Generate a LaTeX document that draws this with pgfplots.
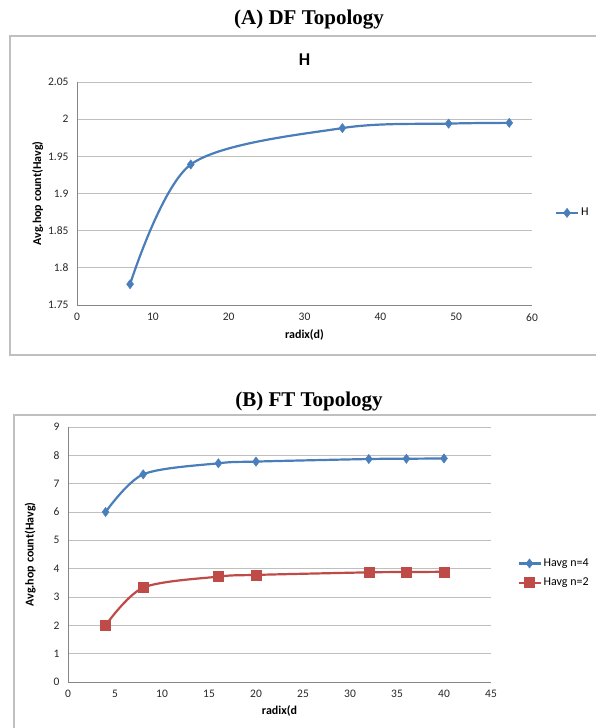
\documentclass[border=0pt]{standalone}
\usepackage{fontspec}
\setmainfont{Carlito}
\newfontfamily\serifb{Liberation Serif}
\usepackage{pgfplots}
\pgfplotsset{compat=1.18}
\usepackage{pgfplotstable}
\definecolor{xlblue}{HTML}{4A7EBB}
\definecolor{xlred}{HTML}{BE4B48}
\definecolor{gridc}{HTML}{BFBFBF}
\definecolor{axc}{HTML}{868686}
\definecolor{framec}{HTML}{BFBFBF}

\pgfplotstableread{
x y
7 1.778
15 1.939
35 1.988
49 1.994
57 1.995
}\dfH

\pgfplotstableread{
x y
4 6.0
8 7.33
16 7.72
20 7.78
32 7.87
36 7.88
40 7.89
}\ftFour

\pgfplotstableread{
x y
4 2.0
8 3.33
16 3.72
20 3.78
32 3.87
36 3.88
40 3.89
}\ftTwo

\pgfplotsset{
  xlstyle/.style={
    scale only axis,
    axis lines*=left,
    axis line style={axc, line width=0.8pt},
    ymajorgrids,
    grid style={gridc, line width=0.9pt},
    major tick length=0pt,
    tick label style={font=\fontsize{11.5}{13}\selectfont, text=black!85},
    xticklabel style={yshift=-5pt},
    yticklabel style={xshift=-5pt},
    /pgf/number format/assume math mode=true,
    label style={font=\bfseries\fontsize{12}{14}\selectfont},
    legend style={draw=none, fill=none, font=\fontsize{12}{14}\selectfont, row sep=6pt,
      legend cell align=left, inner sep=0pt},
    legend image code/.code={%
      \draw[mark repeat=2,mark phase=2] plot coordinates {(0pt,0pt) (11pt,0pt) (22pt,0pt)};},
    clip=false,
  }
}

\begin{document}
\begin{tikzpicture}
\useasboundingbox (0pt,0pt) rectangle (595pt,728pt);
% frames
\draw[framec, line width=1.3pt] (10pt,692pt) rectangle (605pt,373pt);
\draw[framec, line width=1.3pt] (14pt,313pt) rectangle (605pt,-10pt);
% titles
\node[font=\serifb\bfseries\fontsize{21}{24}\selectfont] at (309pt,708pt) {(A) DF Topology};
\node[font=\serifb\bfseries\fontsize{21}{24}\selectfont] at (309pt,326pt) {(B) FT Topology};

\begin{axis}[xlstyle,
  at={(77pt,423pt)}, anchor=south west,
  width=455pt, height=223pt,
  xmin=0, xmax=60, ymin=1.75, ymax=2.05,
  xtick={0,10,...,60},
  ytick={1.75,1.8,1.85,1.9,1.95,2,2.05},
  yticklabels={1.75,1.8,1.85,1.9,1.95,2,2.05},
  xlabel={radix(d)}, ylabel={Avg.hop count(Havg)},
  xlabel style={yshift=-1pt},
  ylabel style={yshift=-2pt},
  title={H}, title style={font=\bfseries\fontsize{18}{20}\selectfont, yshift=7pt},
  legend style={at={(1.05,0.413)}, anchor=west},
]
\addplot[xlblue, line width=2.2pt, smooth, mark=diamond*, mark size=4.6pt,
  mark options={solid, line width=0.5pt, fill=xlblue}] table[x=x,y=y] {\dfH};
\addlegendentry{H}
\end{axis}

\begin{axis}[xlstyle,
  at={(68pt,46pt)}, anchor=south west,
  width=423pt, height=255pt,
  xmin=0, xmax=45, ymin=0, ymax=9,
  xtick={0,5,...,45},
  ytick={0,1,...,9},
  xlabel={radix(d}, ylabel={Avg.hop count(Havg)},
  xlabel style={yshift=-1pt},
  ylabel style={yshift=11pt},
  legend style={at={(1.062,0.427)}, anchor=west},
]
\addplot[xlblue, line width=2.2pt, smooth, mark=diamond*, mark size=4.6pt,
  mark options={solid, line width=0.5pt, fill=xlblue}] table[x=x,y=y] {\ftFour};
\addlegendentry{Havg n=4}
\addplot[xlred, line width=2.2pt, smooth, mark=square*, mark size=5pt,
  mark options={solid, line width=0.5pt, fill=xlred}] table[x=x,y=y] {\ftTwo};
\addlegendentry{Havg n=2}
\end{axis}
\end{tikzpicture}
\end{document}
